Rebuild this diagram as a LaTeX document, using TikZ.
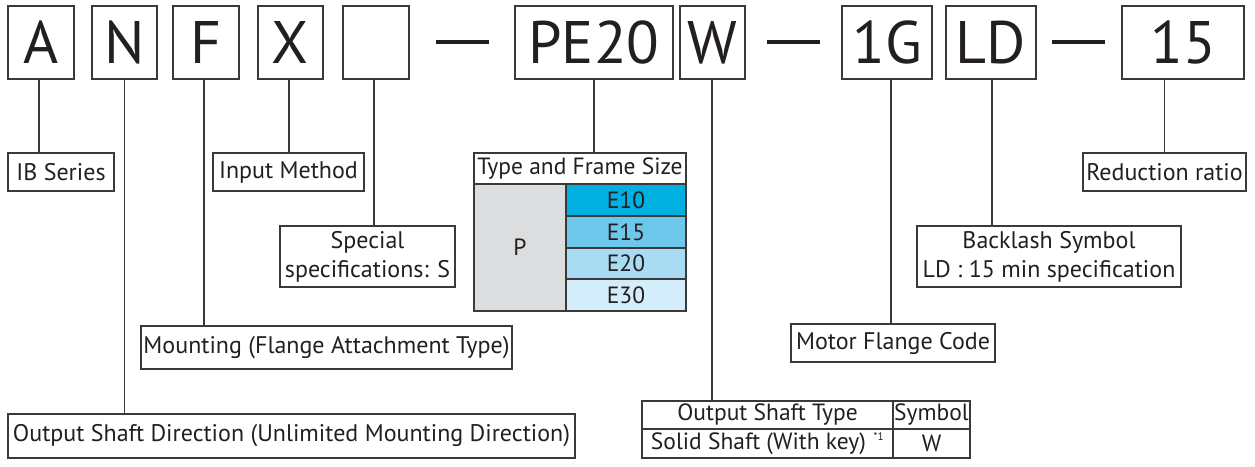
\documentclass[tikz,border=0pt]{standalone}
\usepackage{fontspec}
\setmainfont{PT Sans}
\definecolor{lc}{HTML}{3A3A3A}
\definecolor{tc}{HTML}{231F20}
\definecolor{cA}{HTML}{00B0E0}
\definecolor{cB}{HTML}{6DC7EA}
\definecolor{cC}{HTML}{A9DCF3}
\definecolor{cD}{HTML}{D4EDFA}
\definecolor{cP}{HTML}{DCDDDE}
\begin{document}
\begin{tikzpicture}[x=1pt,y=-1pt,
  code/.style={draw=lc, line width=1.5pt, minimum height=73pt, inner sep=0pt, text=tc,
    font=\fontsize{60}{60}\selectfont},
  lab/.style={draw=lc, line width=1.2pt, inner sep=0pt, text=tc, align=center,
    font=\fontsize{24}{29}\selectfont},
  cell/.style={draw=lc, line width=1.1pt, inner sep=0pt, text=tc,
    font=\fontsize{23.5}{24}\selectfont},
  conn/.style={draw=lc, line width=1.2pt},
  dashbar/.style={draw=tc, line width=4.5pt}]
\useasboundingbox (0,0) rectangle (1255,466);
% code boxes
\node[code, minimum width=66pt] (A) at (41,42.5) {A};
\node[code, minimum width=65pt] (N) at (124.5,42.5) {N};
\node[code, minimum width=66pt] (F) at (206,42.5) {F};
\node[code, minimum width=65pt] (X) at (290.5,42.5) {X};
\node[code, minimum width=66pt] (S) at (376,42.5) {};
\node[code, minimum width=158pt] (PE) at (594,42.5) {PE20};
\node[code, minimum width=65pt] (W) at (712.5,42.5) {W};
\node[code, minimum width=90pt] (G) at (887,42.5) {1G};
\node[code, minimum width=90pt] (LD) at (991,42.5) {LD};
\node[code, minimum width=122pt] (R) at (1183,42.5) {15};
% dashes
\draw[dashbar] (436,42) -- (489,42);
\draw[dashbar] (767,42) -- (820,42);
\draw[dashbar] (1052,42) -- (1105,42);
% labels
\node[lab, minimum width=106pt, minimum height=38pt] (ib) at (61,172) {IB Series};
\node[lab, minimum width=151pt, minimum height=38pt] (im) at (288.5,172) {Input Method};
\node[lab, minimum width=175pt, minimum height=61pt] (sp) at (367.5,256.5) {Special\\specifications: S};
\node[lab, minimum width=371pt, minimum height=43pt] (mt) at (326.5,347.5) {Mounting (Flange Attachment Type)};
\node[lab, minimum width=567pt, minimum height=44pt] (od) at (291.5,436) {Output Shaft Direction (Unlimited Mounting Direction)};
\node[lab, minimum width=163pt, minimum height=38pt] (rr) at (1164.5,172) {Reduction ratio};
\node[lab, minimum width=264pt, minimum height=61pt] (bl) at (1049,256.5) {Backlash Symbol\\LD : 15 min specification};
\node[lab, minimum width=204pt, minimum height=38pt] (mf) at (893,343) {Motor Flange Code};
% type and frame size table
\node[cell, fill=white, minimum width=212pt, minimum height=31pt] (th) at (580,168.5) {Type and Frame Size};
\node[cell, fill=cP, minimum width=92pt, minimum height=127pt] (tp) at (520,247.5) {P};
\node[cell, fill=cA, minimum width=120pt, minimum height=32pt] (e10) at (626,200) {E10};
\node[cell, fill=cB, minimum width=120pt, minimum height=32pt] (e15) at (626,232) {E15};
\node[cell, fill=cC, minimum width=120pt, minimum height=31pt] (e20) at (626,263.5) {E20};
\node[cell, fill=cD, minimum width=120pt, minimum height=32pt] (e30) at (626,295) {E30};
% output shaft table
\node[cell, minimum width=251pt, minimum height=28pt] (ost) at (767.5,415) {Output Shaft Type};
\node[cell, minimum width=77pt, minimum height=28pt] (sym) at (931.5,415) {Symbol};
\node[cell, minimum width=251pt, minimum height=29pt] (ss) at (767.5,443.5) {Solid Shaft (With key)\,\,\textsuperscript{\fontsize{11}{11}\selectfont *1}};
\node[cell, minimum width=77pt, minimum height=29pt] (sw) at (931.5,443.5) {W};
% connectors
\draw[conn] ([xshift=-2pt]A.south) -- ([xshift=-2pt]A.south |- ib.north);
\draw[conn] (N.south) -- (N.south |- od.north);
\draw[conn] ([xshift=-2pt]F.south) -- ([xshift=-2pt]F.south |- mt.north);
\draw[conn] ([xshift=-1.5pt]X.south) -- ([xshift=-1.5pt]X.south |- im.north);
\draw[conn] ([xshift=-2pt]S.south) -- ([xshift=-2pt]S.south |- sp.north);
\draw[conn] (PE.south) -- (PE.south |- th.north);
\draw[conn] ([xshift=-0.5pt]W.south) -- ([xshift=-0.5pt]W.south |- ost.north);
\draw[conn] ([xshift=4pt]G.south) -- ([xshift=4pt]G.south |- mf.north);
\draw[conn] ([xshift=1pt]LD.south) -- ([xshift=1pt]LD.south |- bl.north);
\draw[conn] (rr.north) -- (rr.north |- R.south);
\end{tikzpicture}
\end{document}
